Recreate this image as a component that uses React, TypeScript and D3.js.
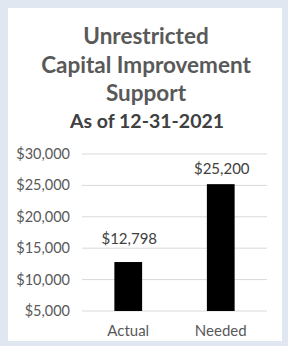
import React from "react";
import { scaleBand, scaleLinear, format } from "d3";

const categories = ["Actual", "Needed"];
const values = [12798, 25200];
const yTicks = [5000, 10000, 15000, 20000, 25000, 30000];
const titleLines = ["Unrestricted", "Capital Improvement", "Support"];
const subtitle = "As of 12-31-2021";

const W = 288;
const H = 346;
const FONT = "Lato, 'Open Sans', sans-serif";

export default function App() {
  const x = scaleBand<string>()
    .domain(categories)
    .range([82, 267])
    .paddingInner(0.7)
    .paddingOuter(0.35);

  const y = scaleLinear().domain([5000, 30000]).range([311, 154]);

  const money = (v: number) => "$" + format(",")(v);
  // Excel placed the two labels a little differently above their bars
  const labelGap = [18, 10];

  return (
    <svg
      width={W}
      height={H}
      style={{ position: "absolute", left: 0, top: 0, display: "block" }}
      fontFamily={FONT}
    >
      <rect x={0} y={0} width={W} height={H} fill="#e0e7f1" />
      <rect x={8} y={8} width={274} height={333} fill="#ffffff" />

      {/* Title */}
      <g fill="#595959" fontWeight={700} textAnchor="middle">
        {titleLines.map((t, i) => (
          <text key={t} x={146} y={44 + i * 28.5} fontSize={22.5}>
            {t}
          </text>
        ))}
        <text x={147} y={128} fontSize={19.5} fill="#404040">
          {subtitle}
        </text>
      </g>

      {/* Grid + y axis */}
      {yTicks.map((t) => (
        <g key={t}>
          <line
            x1={82}
            x2={267}
            y1={y(t)}
            y2={y(t)}
            stroke="#d9d9d9"
            strokeWidth={1}
          />
          <text
            x={70}
            y={y(t)}
            dy="0.35em"
            textAnchor="end"
            fontSize={14.5}
            fill="#595959"
          >
            {money(t)}
          </text>
        </g>
      ))}

      {/* Bars */}
      {categories.map((c, i) => {
        const bx = x(c) ?? 0;
        return (
          <g key={c}>
            <rect
              x={bx}
              y={y(values[i])}
              width={x.bandwidth()}
              height={y(5000) - y(values[i])}
              fill="#000000"
            />
            <text
              x={bx + x.bandwidth() / 2 + 1}
              y={y(values[i]) - labelGap[i]}
              textAnchor="middle"
              fontSize={15}
              fill="#404040"
            >
              {money(values[i])}
            </text>
            <text
              x={bx + x.bandwidth() / 2}
              y={336}
              textAnchor="middle"
              fontSize={15}
              fill="#595959"
            >
              {c}
            </text>
          </g>
        );
      })}
    </svg>
  );
}
